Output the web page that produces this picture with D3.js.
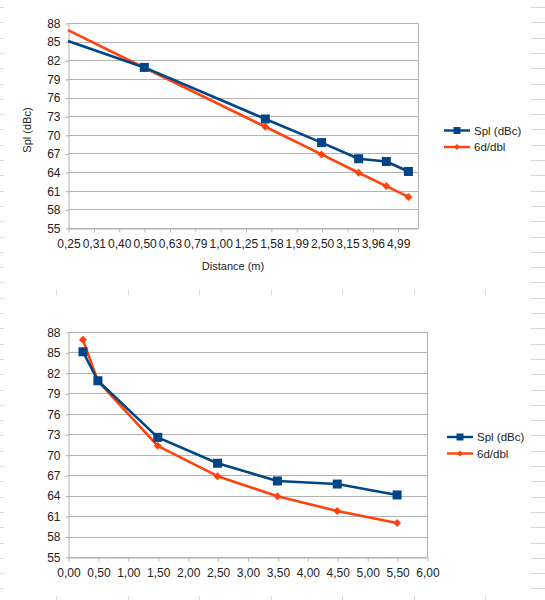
<!DOCTYPE html>
<html>
<head>
<meta charset="utf-8">
<script src="https://cdn.jsdelivr.net/npm/d3@7"></script>
<style>
  html, body { margin: 0; padding: 0; background: #fff; }
  svg { display: block; font-family: "Liberation Sans", Arial, sans-serif; }
</style>
</head>
<body>
<svg id="chart" width="545" height="600"></svg>
<script>
// ---- data ----
const distances = [0.25, 0.5, 1.5, 2.5, 3.5, 4.5, 5.5];
const splValues = [85.1, 80.85, 72.55, 68.75, 66.15, 65.7, 64.1];
const dblValues = [86.85, 80.8, 71.3, 66.85, 63.9, 61.75, 60.0];
const seriesNames = ["Spl (dBc)", "6d/dbl"];
const yTicks = [55, 58, 61, 64, 67, 70, 73, 76, 79, 82, 85, 88];
const logTickValues = [0.25, 0.3147, 0.3962, 0.4988, 0.6279, 0.7906, 0.9953, 1.2530, 1.5774, 1.9858, 2.5, 3.1473, 3.9622, 4.9881];
const logTickLabels = ["0,25", "0,31", "0,40", "0,50", "0,63", "0,79", "1,00", "1,25", "1,58", "1,99", "2,50", "3,15", "3,96", "4,99"];
const linTickValues = [0, 0.5, 1, 1.5, 2, 2.5, 3, 3.5, 4, 4.5, 5, 5.5, 6];
const linTickLabels = ["0,00", "0,50", "1,00", "1,50", "2,00", "2,50", "3,00", "3,50", "4,00", "4,50", "5,00", "5,50", "6,00"];
const xTitle = "Distance (m)";
const yTitle = "Spl (dBc)";

const BLUE = "#004586", ORANGE = "#ff420e";
const svg = d3.select("#chart");

// faint spreadsheet background marks
const deco = svg.append("g").attr("stroke", "#d6d6d6").attr("stroke-width", 1);
for (let y = 7; y < 600; y += 15.3) {
  deco.append("line").attr("x1", 0).attr("x2", 4).attr("y1", Math.round(y) + 0.5).attr("y2", Math.round(y) + 0.5);
  deco.append("line").attr("x1", 531).attr("x2", 545).attr("y1", Math.round(y) + 0.5).attr("y2", Math.round(y) + 0.5);
}
for (let x = 56; x < 545; x += 71.5) {
  deco.append("line").attr("x1", Math.round(x) + 0.5).attr("x2", Math.round(x) + 0.5).attr("y1", 290).attr("y2", 295);
  deco.append("line").attr("x1", Math.round(x) + 0.5).attr("x2", Math.round(x) + 0.5).attr("y1", 596).attr("y2", 600);
}

function drawChart(opt) {
  const g = svg.append("g");
  const x = opt.x, y = d3.scaleLinear().domain([55, 88]).range([opt.bottom, opt.top]);
  const [x0, x1] = x.range();

  // gridlines
  g.append("g").selectAll("line").data(yTicks).join("line")
    .attr("x1", x0).attr("x2", x1)
    .attr("y1", d => Math.round(y(d)) + 0.5).attr("y2", d => Math.round(y(d)) + 0.5)
    .attr("stroke", "#b3b3b3").attr("stroke-width", 1);
  // right wall border
  g.append("line").attr("x1", Math.round(x1) + 0.5).attr("x2", Math.round(x1) + 0.5)
    .attr("y1", opt.top).attr("y2", opt.bottom).attr("stroke", "#b3b3b3");

  // y axis
  const yAxis = g.append("g").attr("transform", `translate(${Math.round(x0) + 0.5},0.5)`)
    .call(d3.axisLeft(y).tickValues(yTicks).tickSize(3).tickPadding(5).tickSizeOuter(0));
  yAxis.select(".domain").attr("stroke", "#b3b3b3");
  yAxis.selectAll(".tick line").attr("stroke", "#b3b3b3");
  yAxis.selectAll("text").attr("font-size", "12px").attr("fill", "#222")
    .attr("font-family", "Liberation Sans, Arial, sans-serif");

  // x axis
  const xAxis = g.append("g").attr("transform", `translate(0.5,${Math.round(opt.bottom) + 0.5})`)
    .call(d3.axisBottom(x).tickValues(opt.tickValues).tickFormat((d, i) => opt.tickLabels[i])
      .tickSize(4).tickPadding(7).tickSizeOuter(0));
  xAxis.select(".domain").attr("stroke", "#b3b3b3");
  xAxis.selectAll(".tick line").attr("stroke", "#b3b3b3");
  xAxis.selectAll("text").attr("font-size", "12px").attr("fill", "#222")
    .attr("font-family", "Liberation Sans, Arial, sans-serif");

  const line = d3.line().x(d => x(d[0])).y(d => y(d[1]));
  const series = [
    { vals: dblValues, color: ORANGE, shape: "diamond" },
    { vals: splValues, color: BLUE, shape: "square" }
  ];
  series.forEach(s => {
    const pts = distances.map((d, i) => [d, s.vals[i]]);
    g.append("path").datum(pts).attr("d", line).attr("fill", "none")
      .attr("stroke", s.color).attr("stroke-width", 2.6).attr("stroke-linejoin", "round");
    const mpts = pts.filter(p => !opt.skipFirstMarker || p[0] > x.domain()[0]);
    if (s.shape === "square") {
      g.append("g").selectAll("rect").data(mpts).join("rect")
        .attr("x", p => x(p[0]) - 4.5).attr("y", p => y(p[1]) - 4.5)
        .attr("width", 9).attr("height", 9).attr("fill", s.color);
    } else {
      g.append("g").selectAll("path").data(mpts).join("path")
        .attr("d", p => { const cx = x(p[0]), cy = y(p[1]), r = 4;
          return `M${cx},${cy - r}L${cx + r},${cy}L${cx},${cy + r}L${cx - r},${cy}Z`; })
        .attr("fill", s.color);
    }
  });

  // legend
  const leg = g.append("g");
  [{ c: BLUE, shape: "square", name: seriesNames[0] }, { c: ORANGE, shape: "diamond", name: seriesNames[1] }]
    .forEach((it, i) => {
      const ly = opt.legY + i * 16.5;
      const lx = opt.legX;
      leg.append("line").attr("x1", lx).attr("x2", lx + 26).attr("y1", ly).attr("y2", ly)
        .attr("stroke", it.c).attr("stroke-width", 2.4);
      const cx = lx + 13;
      if (it.shape === "square") {
        leg.append("rect").attr("x", cx - 3.5).attr("y", ly - 3.5).attr("width", 7).attr("height", 7).attr("fill", it.c);
      } else {
        leg.append("path").attr("d", `M${cx},${ly - 3}L${cx + 3},${ly}L${cx},${ly + 3}L${cx - 3},${ly}Z`).attr("fill", it.c);
      }
      leg.append("text").attr("x", lx + 30).attr("y", ly).attr("dy", "0.35em")
        .attr("font-size", "11.5px").attr("fill", "#222").text(it.name);
    });

  if (opt.titles) {
    g.append("text").attr("x", 233).attr("y", 270).attr("text-anchor", "middle")
      .attr("font-size", "11px").attr("fill", "#222").text(xTitle);
    g.append("text").attr("transform", `translate(31,130) rotate(-90)`).attr("text-anchor", "middle")
      .attr("font-size", "11px").attr("fill", "#222").text(yTitle);
  }
}

drawChart({
  x: d3.scaleLog().domain([0.25, 6]).range([68, 418]),
  top: 23, bottom: 228,
  tickValues: logTickValues, tickLabels: logTickLabels,
  skipFirstMarker: true,
  legX: 444, legY: 130.5, titles: true
});

drawChart({
  x: d3.scaleLinear().domain([0, 6]).range([68, 427]),
  top: 332, bottom: 557,
  tickValues: linTickValues, tickLabels: linTickLabels,
  skipFirstMarker: false,
  legX: 447, legY: 437, titles: false
});
</script>
</body>
</html>
